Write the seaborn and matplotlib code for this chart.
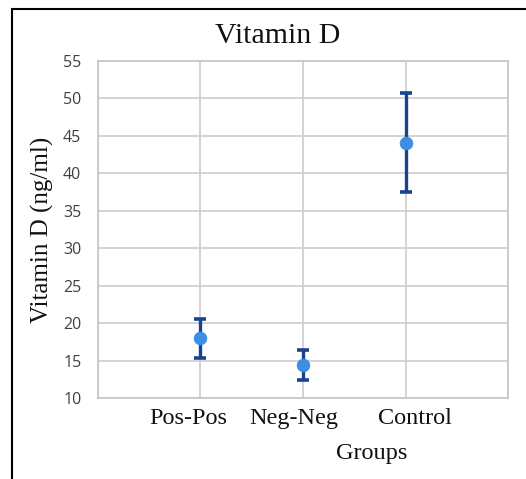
import seaborn as sns
import matplotlib.pyplot as plt
import matplotlib.transforms as mtransforms
import pandas as pd
from matplotlib.patches import Rectangle

# data
groups = ['Pos-Pos', 'Neg-Neg', 'Control']
means = [18.0, 14.4, 44.1]
sd = [2.6, 2.0, 6.6]
yticks = [10, 15, 20, 25, 30, 35, 40, 45, 50, 55]

df = pd.DataFrame({'pos': [1, 2, 3], 'group': groups, 'mean': means, 'sd': sd})

sns.set_style('whitegrid')
plt.rcParams['font.family'] = ['Liberation Serif', 'DejaVu Serif']
plt.rcParams['text.color'] = '#111111'
plt.rcParams['xtick.color'] = '#111111'

fig = plt.figure(figsize=(5.26, 4.79), dpi=100)
ax = fig.add_axes([0.1863, 0.1691, 0.7795, 0.7036])

ax.errorbar(df['pos'], df['mean'], yerr=df['sd'], fmt='none', ecolor='#17448f',
            elinewidth=2.4, capsize=4.5, capthick=2.6, zorder=3)
sns.scatterplot(data=df, x='pos', y='mean', s=85, color='#3b8fe5',
                edgecolor='#3b8fe5', linewidth=0.5, zorder=4, ax=ax)

ax.set_xlim(0, 4)
ax.set_ylim(10, 55)
ax.set_xticks([0, 1, 2, 3, 4])
ax.set_xticklabels(['', 'Pos-Pos', 'Neg-Neg', 'Control', ''], fontsize=17.5, color='#111111')
ax.set_yticks(yticks)
ax.set_yticklabels([str(v) for v in yticks], family='Open Sans', fontsize=11.5, color='#404040')
ax.tick_params(axis='both', length=0)
ax.tick_params(axis='y', pad=12)
ax.tick_params(axis='x', pad=7)
ax.set_xlabel('')
ax.set_ylabel('')
ax.grid(True, color='#d0d0d0', linewidth=1.3)
for s in ax.spines.values():
    s.set_color('#c8c8c8')
    s.set_linewidth(1.3)

# category labels sit slightly off their grid lines in the original
shifts = [0, -12, -9, 9, 0]
for lab, dx in zip(ax.get_xticklabels(), shifts):
    lab.set_transform(lab.get_transform() + mtransforms.ScaledTranslation(dx / 100, 0, fig.dpi_scale_trans))

fig.text(0.527, 0.925, 'Vitamin D', ha='center', va='center', fontsize=21.5)
fig.text(0.08, 0.521, 'Vitamin D (ng/ml)', ha='center', va='center', rotation=90, fontsize=18)
fig.text(0.707, 0.054, 'Groups', ha='center', va='center', fontsize=17.5)

fig.patches.append(Rectangle((0.0228, -0.2), 1.3, 0.981 + 0.2, transform=fig.transFigure,
                             fill=False, edgecolor='black', linewidth=1.5))

fig.savefig('out.png', dpi=100)
